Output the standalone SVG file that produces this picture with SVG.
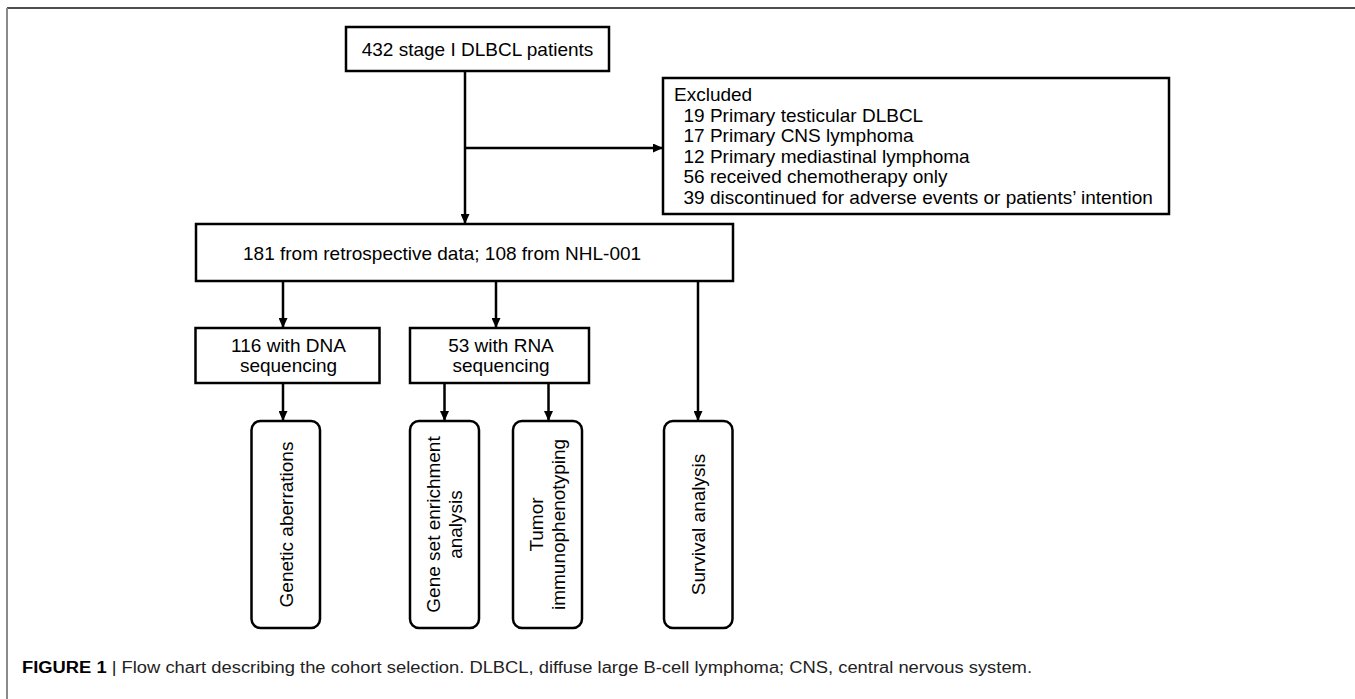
<svg xmlns="http://www.w3.org/2000/svg" width="1355" height="699" viewBox="0 0 1355 699">
<style>
.box{fill:#fff;stroke:#000;stroke-width:2.5}
.rbox{fill:#fff;stroke:#000;stroke-width:2.5}
.t{font-family:"Liberation Sans",Arial,sans-serif;font-size:19px;fill:#000}
.c{text-anchor:middle}
.ln{fill:none;stroke:#000;stroke-width:2.5}
.cap{font-family:"Liberation Sans",Arial,sans-serif;font-size:16px;fill:#222}
</style>
<defs>
<marker id="ah" markerUnits="userSpaceOnUse" markerWidth="10" markerHeight="9" refX="10" refY="4.5" orient="auto">
<path d="M0,0 L10,4.5 L0,9 z" fill="#000"/>
</marker>
</defs>
<rect width="1355" height="699" fill="#fff"/>
<g id="frame">
<line x1="7" y1="8" x2="1355" y2="8" stroke="#4d4d4d" stroke-width="2"/>
<line x1="7" y1="8" x2="7" y2="699" stroke="#8a8a8a" stroke-width="2"/>
</g>
<g id="connectors">
<line class="ln" x1="465" y1="71" x2="465" y2="224" marker-end="url(#ah)"/>
<line class="ln" x1="465" y1="148" x2="663" y2="148" marker-end="url(#ah)"/>
<line class="ln" x1="283" y1="281" x2="283" y2="328" marker-end="url(#ah)"/>
<line class="ln" x1="496" y1="281" x2="496" y2="328" marker-end="url(#ah)"/>
<line class="ln" x1="698" y1="281" x2="698" y2="421" marker-end="url(#ah)"/>
<line class="ln" x1="283" y1="383" x2="283" y2="421" marker-end="url(#ah)"/>
<line class="ln" x1="444.5" y1="383" x2="444.5" y2="421" marker-end="url(#ah)"/>
<line class="ln" x1="548.5" y1="383" x2="548.5" y2="421" marker-end="url(#ah)"/>
</g>
<g id="n-start">
<rect class="box" x="346" y="27" width="263" height="44"/>
<text class="t c" x="477.5" y="56">432 stage I DLBCL patients</text>
</g>
<g id="n-excluded">
<rect class="box" x="663" y="78" width="506" height="136"/>
<text class="t" x="674" y="101">Excluded</text>
<text class="t" x="683.5" y="121.6">19 Primary testicular DLBCL</text>
<text class="t" x="683.5" y="142.2">17 Primary CNS lymphoma</text>
<text class="t" x="683.5" y="162.8">12 Primary mediastinal lymphoma</text>
<text class="t" x="683.5" y="183.4">56 received chemotherapy only</text>
<text class="t" x="683.5" y="204">39 discontinued for adverse events or patients’ intention</text>
</g>
<g id="n-cohort">
<rect class="box" x="196" y="224" width="537" height="57"/>
<text class="t" x="243" y="260">181 from retrospective data; 108 from NHL-001</text>
</g>
<g id="n-dna">
<rect class="box" x="195.5" y="328" width="184" height="55"/>
<text class="t c" x="288.5" y="352">116 with DNA</text>
<text class="t c" x="288.5" y="372">sequencing</text>
</g>
<g id="n-rna">
<rect class="box" x="410" y="328" width="179" height="55"/>
<text class="t c" x="501" y="352">53 with RNA</text>
<text class="t c" x="501" y="372">sequencing</text>
</g>
<g id="n-genetic">
<rect class="rbox" x="251.5" y="421" width="68.5" height="207" rx="9"/>
<text class="t c" transform="translate(292.7,524.5) rotate(-90)">Genetic aberrations</text>
</g>
<g id="n-gsea">
<rect class="rbox" x="410" y="421" width="69" height="207" rx="9"/>
<text class="t c" transform="translate(440.4,524.5) rotate(-90)">Gene set enrichment</text>
<text class="t c" transform="translate(462.4,524.5) rotate(-90)">analysis</text>
</g>
<g id="n-tumor">
<rect class="rbox" x="513" y="421" width="69" height="207" rx="9"/>
<text class="t c" transform="translate(543.4,524.5) rotate(-90)">Tumor</text>
<text class="t c" transform="translate(565.4,524.5) rotate(-90)">immunophenotyping</text>
</g>
<g id="n-survival">
<rect class="rbox" x="664" y="421" width="68.5" height="207" rx="9"/>
<text class="t c" transform="translate(704.8,524.5) rotate(-90)">Survival analysis</text>
</g>
<g id="caption">
<text class="cap" x="22" y="673" textLength="1010" lengthAdjust="spacingAndGlyphs"><tspan font-weight="bold" fill="#000">FIGURE 1</tspan> | Flow chart describing the cohort selection. DLBCL, diffuse large B-cell lymphoma; CNS, central nervous system.</text>
</g>
</svg>
